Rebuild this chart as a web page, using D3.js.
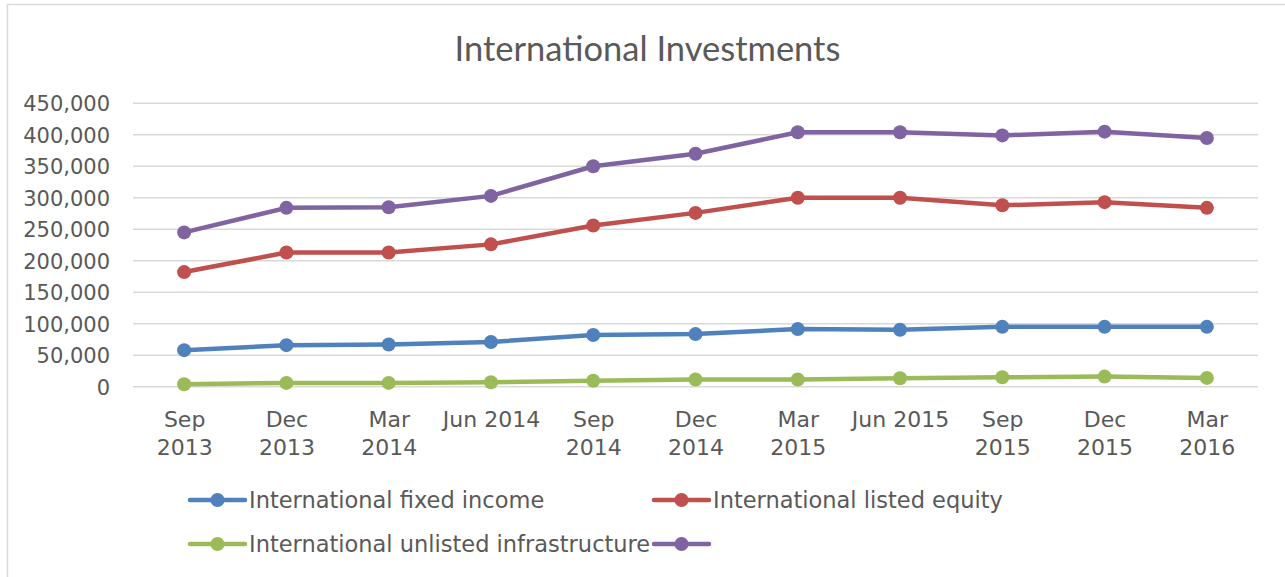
<!DOCTYPE html>
<html>
<head>
<meta charset="utf-8">
<script src="https://cdn.jsdelivr.net/npm/d3@7"></script>
<style>
  html, body { margin: 0; padding: 0; background: #fff; }
  svg { display: block; }
</style>
</head>
<body>
<svg id="chart" width="1285" height="577"></svg>
<script>
// Quarter-end labels ("\n" marks a wrapped label)
const quarters = ["Sep\n2013", "Dec\n2013", "Mar\n2014", "Jun 2014", "Sep\n2014", "Dec\n2014",
                  "Mar\n2015", "Jun 2015", "Sep\n2015", "Dec\n2015", "Mar\n2016"];

// Holdings by asset class
const fixedIncome    = [58000, 66000, 67000, 71000, 82000, 83500, 91500, 90500, 95000, 95000, 95000];
const listedEquity   = [182000, 213000, 213000, 226000, 256000, 276000, 300000, 300000, 288000, 293000, 284000];
const unlistedInfra  = [4000, 6000, 6000, 7000, 9500, 11500, 11500, 13500, 15000, 16000, 14000];
const totalHoldings  = [245000, 284000, 285000, 303000, 350000, 370000, 404000, 404000, 399000, 405000, 395000];

const seriesNames  = ["International fixed income", "International listed equity",
                      "International unlisted infrastructure", ""];
const seriesColors = ["#4F81BD", "#C0504D", "#9BBB59", "#8064A2"];

const yTicks = [0, 50000, 100000, 150000, 200000, 250000, 300000, 350000, 400000, 450000];

const chartTitle = "International Investments";

const series = [fixedIncome, listedEquity, unlistedInfra, totalHoldings].map((values, i) => ({
  name: seriesNames[i], color: seriesColors[i], values
}));

const svg = d3.select("#chart");
const textColor = "#595959";
const labelFont = "'DejaVu Sans', Verdana, sans-serif";

// Outer chart frame
svg.append("rect")
  .attr("x", 7.5).attr("y", 4.5)
  .attr("width", 1290).attr("height", 600)
  .attr("fill", "#fff").attr("stroke", "#d9d9d9").attr("stroke-width", 1.5);

const plot = { left: 133, right: 1258, top: 103.3, bottom: 386.7 };

const x = d3.scalePoint()
  .domain(quarters)
  .range([plot.left, plot.right])
  .padding(0.5);

const y = d3.scaleLinear()
  .domain([0, 450000])
  .range([plot.bottom, plot.top]);

// Title
svg.append("text")
  .attr("x", 647.5).attr("y", 61)
  .attr("text-anchor", "middle")
  .attr("fill", textColor)
  .style("font-family", "Lato, 'Open Sans', sans-serif")
  .style("font-size", "34.5px")
  .text(chartTitle);

// Horizontal gridlines
svg.append("g")
  .selectAll("line")
  .data(yTicks)
  .join("line")
  .attr("x1", plot.left).attr("x2", plot.right)
  .attr("y1", d => y(d)).attr("y2", d => y(d))
  .attr("stroke", "#d9d9d9").attr("stroke-width", 1.5);

// Y axis labels
const yAxis = d3.axisLeft(y).tickValues(yTicks).tickFormat(d3.format(",")).tickSize(0).tickPadding(0);
const yg = svg.append("g").attr("transform", `translate(110,0)`).call(yAxis);
yg.select(".domain").remove();
yg.selectAll("text")
  .attr("fill", textColor)
  .attr("dy", "0.36em")
  .style("font-family", labelFont)
  .style("font-size", "21px");

// X axis labels (possibly wrapped over two lines)
const xAxis = d3.axisBottom(x).tickSize(0).tickFormat("");
const xg = svg.append("g").attr("transform", `translate(0,${plot.bottom})`).call(xAxis);
xg.select(".domain").remove();
xg.selectAll(".tick").each(function (d) {
  const t = d3.select(this).append("text")
    .attr("text-anchor", "middle")
    .attr("fill", textColor)
    .style("font-family", labelFont)
    .style("font-size", "22px");
  d.split("\n").forEach((line, i) => {
    t.append("tspan").attr("x", 0).attr("y", 40.5 + i * 28).text(line);
  });
});

// Series lines and markers
const line = d3.line()
  .x((d, i) => x(quarters[i]))
  .y(d => y(d));

const sg = svg.append("g").selectAll("g").data(series).join("g");
sg.append("path")
  .attr("d", d => line(d.values))
  .attr("fill", "none")
  .attr("stroke", d => d.color)
  .attr("stroke-width", 4.5)
  .attr("stroke-linejoin", "round")
  .attr("stroke-linecap", "round");
sg.selectAll("circle")
  .data(d => d.values.map((v, i) => ({ v, i, color: d.color })))
  .join("circle")
  .attr("cx", d => x(quarters[d.i]))
  .attr("cy", d => y(d.v))
  .attr("r", 7)
  .attr("fill", d => d.color);

// Legend: two rows, two columns
const legendPos = [[190, 500], [654, 500], [190, 544], [654, 544]];
const lg = svg.append("g").selectAll("g").data(series).join("g")
  .attr("transform", (d, i) => `translate(${legendPos[i][0]},${legendPos[i][1]})`);
lg.append("line")
  .attr("x1", 0).attr("x2", 55)
  .attr("stroke", d => d.color).attr("stroke-width", 4.5).attr("stroke-linecap", "round");
lg.append("circle")
  .attr("cx", 27.5).attr("r", 7)
  .attr("fill", d => d.color);
lg.append("text")
  .attr("x", 59).attr("dy", "0.36em")
  .attr("fill", textColor)
  .style("font-family", labelFont)
  .style("font-size", "22.5px")
  .text(d => d.name);
</script>
</body>
</html>
